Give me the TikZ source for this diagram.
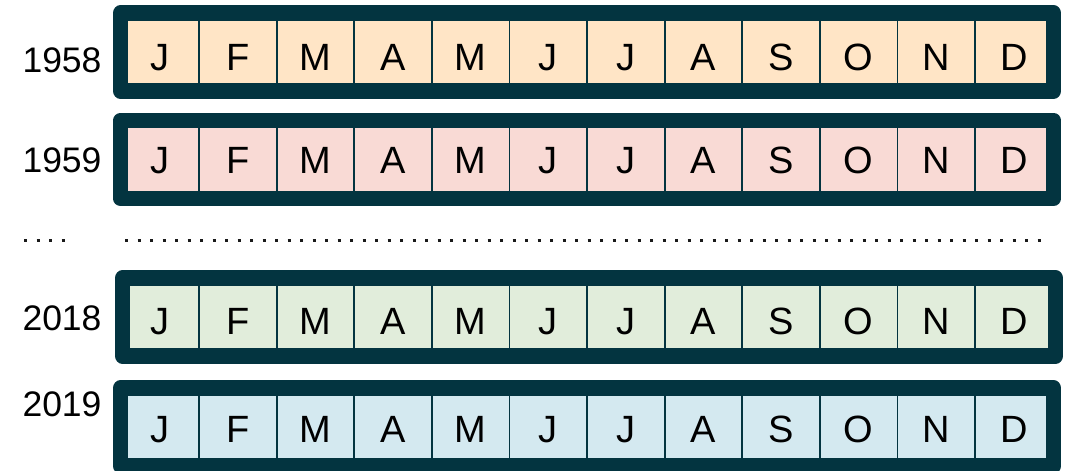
\documentclass[tikz,border=0pt]{standalone}
\usepackage{fontspec}
\setmainfont{Liberation Sans}
\definecolor{framecol}{HTML}{033440}
\definecolor{peach}{HTML}{FFE5C6}
\definecolor{rose}{HTML}{F9DAD5}
\definecolor{sage}{HTML}{E1EDDB}
\definecolor{sky}{HTML}{D4E9F0}
\definecolor{dotcol}{HTML}{1A1A1A}
\tikzset{
  cell/.style={draw=framecol, line width=1.8pt, minimum width=77.6pt,
    minimum height=76pt, inner sep=0pt, text depth=0pt,
    font=\fontsize{38}{38}\selectfont},
  frame/.style={draw=framecol, line width=15.5pt, line join=round},
  yearlabel/.style={inner sep=0pt, font=\fontsize{35.5}{36}\selectfont},
  dotrow/.style={draw=dotcol, line width=3pt, dash pattern=on 3pt off 9.5pt},
}
\begin{document}
\begin{tikzpicture}[x=1pt, y=-1pt]
    \useasboundingbox (0,0) rectangle (1074,471);
    % one row per year: cells, then the thick frame on top
    \foreach \row/\yr/\top/\fillc/\th/\yy/\fx in
      {1/1958/14/peach/37.2/60/0, 2/1959/121.5/rose/28.7/160/0,
       3/2018/279/sage/35.2/318/2, 4/2019/389/sky/30.2/404/0} {
      \foreach \m/\mon in {1/J,2/F,3/M,4/A,5/M,6/J,7/J,8/A,9/S,10/O,11/N,12/D}
        \node[cell, fill=\fillc, text height=\th pt]
          (c\row-\m) at ({121.5+77.6*(\m-0.5)}, {\top+38}) {\mon};
      \draw[frame] ([xshift=\fx pt]c\row-1.north west)
        rectangle ([xshift=\fx pt]c\row-12.south east);
      \node[yearlabel] (y\row) at (62, \yy) {\yr};
    }
    % gap between 1959 and 2018
    \draw[dotrow] (24,240) -- (66,240);
    \draw[dotrow] (125,240) -- (1046,240);
\end{tikzpicture}
\end{document}
